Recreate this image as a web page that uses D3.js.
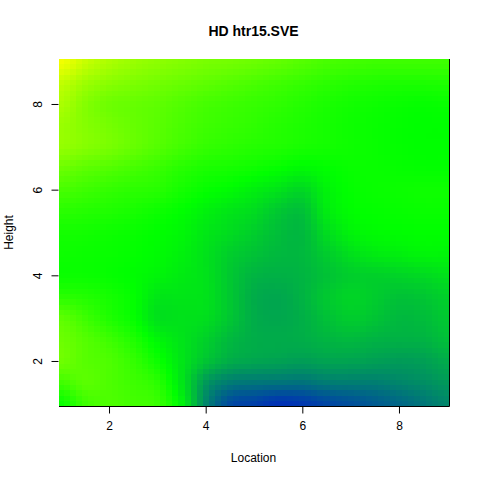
<!DOCTYPE html>
<html><head><meta charset="utf-8">
<script src="https://cdn.jsdelivr.net/npm/d3@7"></script>
<style>html,body{margin:0;padding:0;background:#fff}svg{display:block}text{font-family:"Liberation Sans",Arial,sans-serif;fill:#000}</style>
</head><body><div id="c"></div>
<script>
const titleText = "HD htr15.SVE";
const xLabel = "Location";
const yLabel = "Height";
const xTicks = [2,4,6,8];
const yTicks = [2,4,6,8];
const locations = [1,1.5,2,2.5,3,3.5,4,4.5,5,5.5,6,6.5,7,7.5,8,8.5,9];
const heights = [9,8.5,8,7.5,7,6.5,6,5.5,5,4.5,4,3.5,3,2.5,2,1.5,1];
const values = [
[95,78,67,60,55,51,47,45,42,38,33,28,26,24,24,24,24],
[76,62,54,49,45,41,37,33,29,25,21,17,14,12,11,11,12],
[67,52,43,40,37,32,27,24,21,18,14,10,7,5,3,2,3],
[60,52,46,40,35,29,24,21,18,14,11,8,5,3,1,0,0],
[58,52,47,40,33,26,20,17,14,12,9,7,5,3,1,0,0],
[42,36,32,27,22,15,10,8,5,1,-3,0,3,3,2,1,1],
[28,24,20,17,15,8,2,-2,-8,-14,-20,-6,1,3,4,5,5],
[16,14,12,9,5,0,-7,-13,-18,-28,-32,-10,-1,1,2,3,3],
[8,7,5,3,0,-4,-12,-18,-25,-33,-36,-18,-6,-2,-1,0,0],
[5,4,3,1,-2,-7,-15,-25,-31,-36,-36,-26,-16,-10,-8,-5,-5],
[4,4,2,-1,-5,-10,-15,-28,-38,-40,-38,-31,-25,-24,-22,-19,-15],
[16,13,8,1,-12,-13,-15,-28,-42,-45,-39,-28,-22,-26,-31,-29,-24],
[36,24,12,2,-15,-15,-17,-29,-42,-45,-41,-32,-26,-30,-36,-34,-28],
[42,33,24,12,-4,-14,-24,-36,-42,-43,-42,-38,-36,-39,-40,-39,-33],
[43,34,30,20,5,-13,-30,-42,-46,-48,-50,-47,-47,-49,-51,-49,-43],
[25,35,30,24,16,-13,-52,-67,-70,-71,-72,-67,-66,-66,-62,-58,-52],
[3,24,30,26,22,-6,-62,-92,-98,-105,-102,-95,-90,-84,-78,-70,-62]
];
const colorStops = ["#0032b4","#00ff00","#ffff00"];
const colorDomain = [-105,0,100];

const W=480,H=480,L=59,R=449,T=59,B=406;
const x=d3.scaleLinear().domain([0.965,9.035]).range([L,R]);
const y=d3.scaleLinear().domain([0.949,9.05]).range([B,T]);
const color=d3.scaleLinear().domain(colorDomain).range(colorStops).interpolate(d3.interpolateRgb).clamp(true);
const svg=d3.select("#c").append("svg").attr("width",W).attr("height",H);

// paint the read-off grid as a fine raster, smoothing between readings
const sub=4, nx=(locations.length-1)*sub+1, ny=(heights.length-1)*sub+1;
const cr=(p0,p1,p2,p3,t)=>0.5*(2*p1+(p2-p0)*t+(2*p0-5*p1+4*p2-p3)*t*t+(3*p1-p0-3*p2+p3)*t*t*t);
const cl=(v,n)=>Math.max(0,Math.min(n-1,v));
function val(i,j){
  const fi=i/sub, fj=j/sub, i0=Math.min(Math.floor(fi),locations.length-2), j0=Math.min(Math.floor(fj),heights.length-2);
  const a=fi-i0, b=fj-j0, rows=[];
  for(let m=-1;m<=2;m++){
    const r=values[cl(j0+m,heights.length)];
    rows.push(cr(r[cl(i0-1,locations.length)],r[i0],r[i0+1],r[cl(i0+2,locations.length)],a));
  }
  return cr(rows[0],rows[1],rows[2],rows[3],b);
}
const cells=[];
for(let j=0;j<ny;j++)for(let i=0;i<nx;i++)cells.push({i,j,v:val(i,j)});
const stepX=(locations[1]-locations[0])/sub, stepY=(heights[0]-heights[1])/sub;
const edgeX=i=>Math.max(L,Math.min(R,Math.round(x(locations[0]+(i-0.5)*stepX))));
const edgeY=j=>Math.max(T,Math.min(B,Math.round(y(heights[0]-(j-0.5)*stepY))));
svg.append("g").attr("shape-rendering","crispEdges").selectAll("rect").data(cells).join("rect")
  .attr("x",d=>d.i===0?L:edgeX(d.i))
  .attr("y",d=>d.j===0?T:edgeY(d.j))
  .attr("width",d=>(d.i===nx-1?R:edgeX(d.i+1))-(d.i===0?L:edgeX(d.i)))
  .attr("height",d=>(d.j===ny-1?B:edgeY(d.j+1))-(d.j===0?T:edgeY(d.j)))
  .attr("fill",d=>color(d.v));

// box: only bottom and right stay visible over the image
svg.append("path").attr("d",`M${L},${B+0.5}H${R+0.5}V${T}`).attr("fill","none").attr("stroke","#000").attr("stroke-width",1);

const gx=svg.append("g").attr("transform",`translate(0,${B+0.5})`)
  .call(d3.axisBottom(x).tickValues(xTicks).tickFormat(d3.format("d")).tickSize(7).tickPadding(8).tickSizeOuter(0));
const gy=svg.append("g").attr("transform",`translate(${L-0.5},0)`)
  .call(d3.axisLeft(y).tickValues(yTicks).tickFormat(d3.format("d")).tickSize(7).tickPadding(0).tickSizeOuter(0));
gx.select(".domain").remove(); gy.select(".domain").remove();
gx.selectAll("text").attr("font-size",12).style("font-family",'"Liberation Sans",Arial,sans-serif').attr("y",15).attr("dy","0.71em");
gy.selectAll("text").attr("font-size",12).style("font-family",'"Liberation Sans",Arial,sans-serif')
  .attr("text-anchor","middle").attr("x",0).attr("dy",0)
  .attr("transform","translate(-16.5,0) rotate(-90)");

svg.append("text").attr("x",253.5).attr("y",36).attr("text-anchor","middle").attr("font-size",14).attr("font-weight","bold").text(titleText);
svg.append("text").attr("x",253.5).attr("y",462).attr("text-anchor","middle").attr("font-size",12).text(xLabel);
svg.append("text").attr("transform",`translate(13,232.5) rotate(-90)`).attr("text-anchor","middle").attr("font-size",12).text(yLabel);
</script></body></html>
